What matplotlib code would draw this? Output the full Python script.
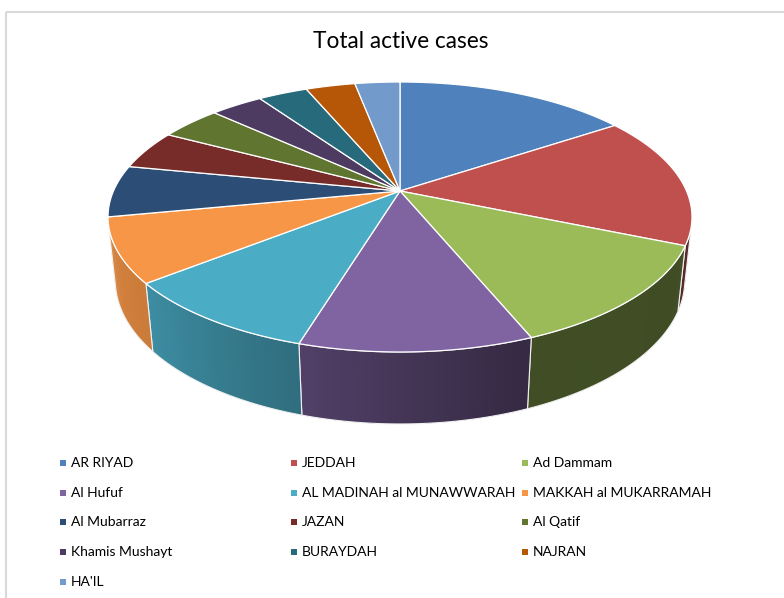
import matplotlib
matplotlib.use("Agg")
import matplotlib.pyplot as plt
import numpy as np
from matplotlib.patches import Polygon, Rectangle

plt.rcParams['font.family'] = ['Lato', 'DejaVu Sans']

# share of total active cases (%)
cities = ["AR RIYAD", "JEDDAH", "Ad Dammam", "Al Hufuf", "AL MADINAH al MUNAWWARAH",
          "MAKKAH al MUKARRAMAH", "Al Mubarraz", "JAZAN", "Al Qatif", "Khamis Mushayt",
          "BURAYDAH", "NAJRAN", "HA'IL"]
cases = [15.6, 15.8, 12.5, 10.8, 9.6, 7.7, 6.2, 4.7, 4.1, 3.5, 3.3, 3.3, 3.0]
colors = ["#4F81BD", "#C0504D", "#9BBB59", "#8064A2", "#4BACC6", "#F79646",
          "#2C4D75", "#772C2A", "#5F7530", "#4D3B62", "#276A7C", "#B65708", "#729ACA"]

# perspective setup for the 3D pie (pixel units)
CX, CY = 400, 191
SIN_T, COS_T = 0.4537, 0.891
DIST = 4.627
FOC = 1325.7
THICK = 0.25


def proj(phi, z):
    x = np.sin(phi)
    y = np.cos(phi)
    depth = DIST + y * COS_T - z * SIN_T
    return CX + FOC * x / depth, CY - FOC * (y * SIN_T + z * COS_T) / depth


def shade(hex_color, f):
    rgb = np.array(matplotlib.colors.to_rgb(hex_color))
    return tuple(np.clip(rgb * f, 0, 1))


fig = plt.figure(figsize=(7.84, 5.98), dpi=100)
ax = fig.add_axes([0, 0, 1, 1])
ax.set_xlim(0, 784)
ax.set_ylim(598, 0)
ax.axis('off')

# chart frame
ax.add_patch(Rectangle((6, 12), 800, 620, fill=False, edgecolor="#d9d9d9", lw=1.5))

ax.text(401, 42, "Total active cases", ha='center', va='center', fontsize=16.3, color="#000000")

bounds = np.concatenate([[0], np.cumsum(cases)]) / np.sum(cases) * 2 * np.pi
vis_lo = np.arccos(-1 / (DIST * COS_T))
vis_hi = 2 * np.pi - vis_lo

# side walls (only the front part is visible)
for i, col in enumerate(colors):
    a0 = max(bounds[i], vis_lo)
    a1 = min(bounds[i + 1], vis_hi)
    if a1 <= a0:
        continue
    ph = np.linspace(a0, a1, max(int(np.degrees(a1 - a0) * 2), 2))
    step = ph[1] - ph[0]
    for k in range(len(ph) - 1):
        mid = np.degrees(0.5 * (ph[k] + ph[k + 1]))
        f = np.interp(mid, [100, 160, 197, 231, 260], [0.40, 0.42, 0.64, 0.82, 0.88])
        seg = np.array([ph[k], min(ph[k + 1] + step, a1)])
        xt, yt = proj(seg, 0)
        xb, yb = proj(seg, -THICK)
        pts = np.column_stack([np.r_[xt, xb[::-1]], np.r_[yt, yb[::-1]]])
        ax.add_patch(Polygon(pts, closed=True, facecolor=shade(col, f), edgecolor='none'))
    xt, yt = proj(ph, 0)
    xb, yb = proj(ph, -THICK)
    pts = np.column_stack([np.r_[xt, xb[::-1]], np.r_[yt, yb[::-1]]])
    ax.add_patch(Polygon(pts, closed=True, fill=False, edgecolor="#f2f2f2", lw=0.8))

# top surface
for i, col in enumerate(colors):
    ph = np.linspace(bounds[i], bounds[i + 1], 80)
    x, y = proj(ph, 0)
    pts = np.column_stack([np.r_[CX, x], np.r_[CY, y]])
    ax.add_patch(Polygon(pts, closed=True, facecolor=col, edgecolor="white", lw=0.9))

# legend, three columns in row order
for i, (name, col) in enumerate(zip(cities, colors)):
    row, c = divmod(i, 3)
    lx = 60 + c * 231
    ly = 463 + row * 29.7
    ax.add_patch(Rectangle((lx, ly - 3), 6, 6, facecolor=col, edgecolor='none'))
    ax.text(lx + 11, ly, name, ha='left', va='center', fontsize=10, color="#000000")

fig.savefig("out.png", dpi=100)
